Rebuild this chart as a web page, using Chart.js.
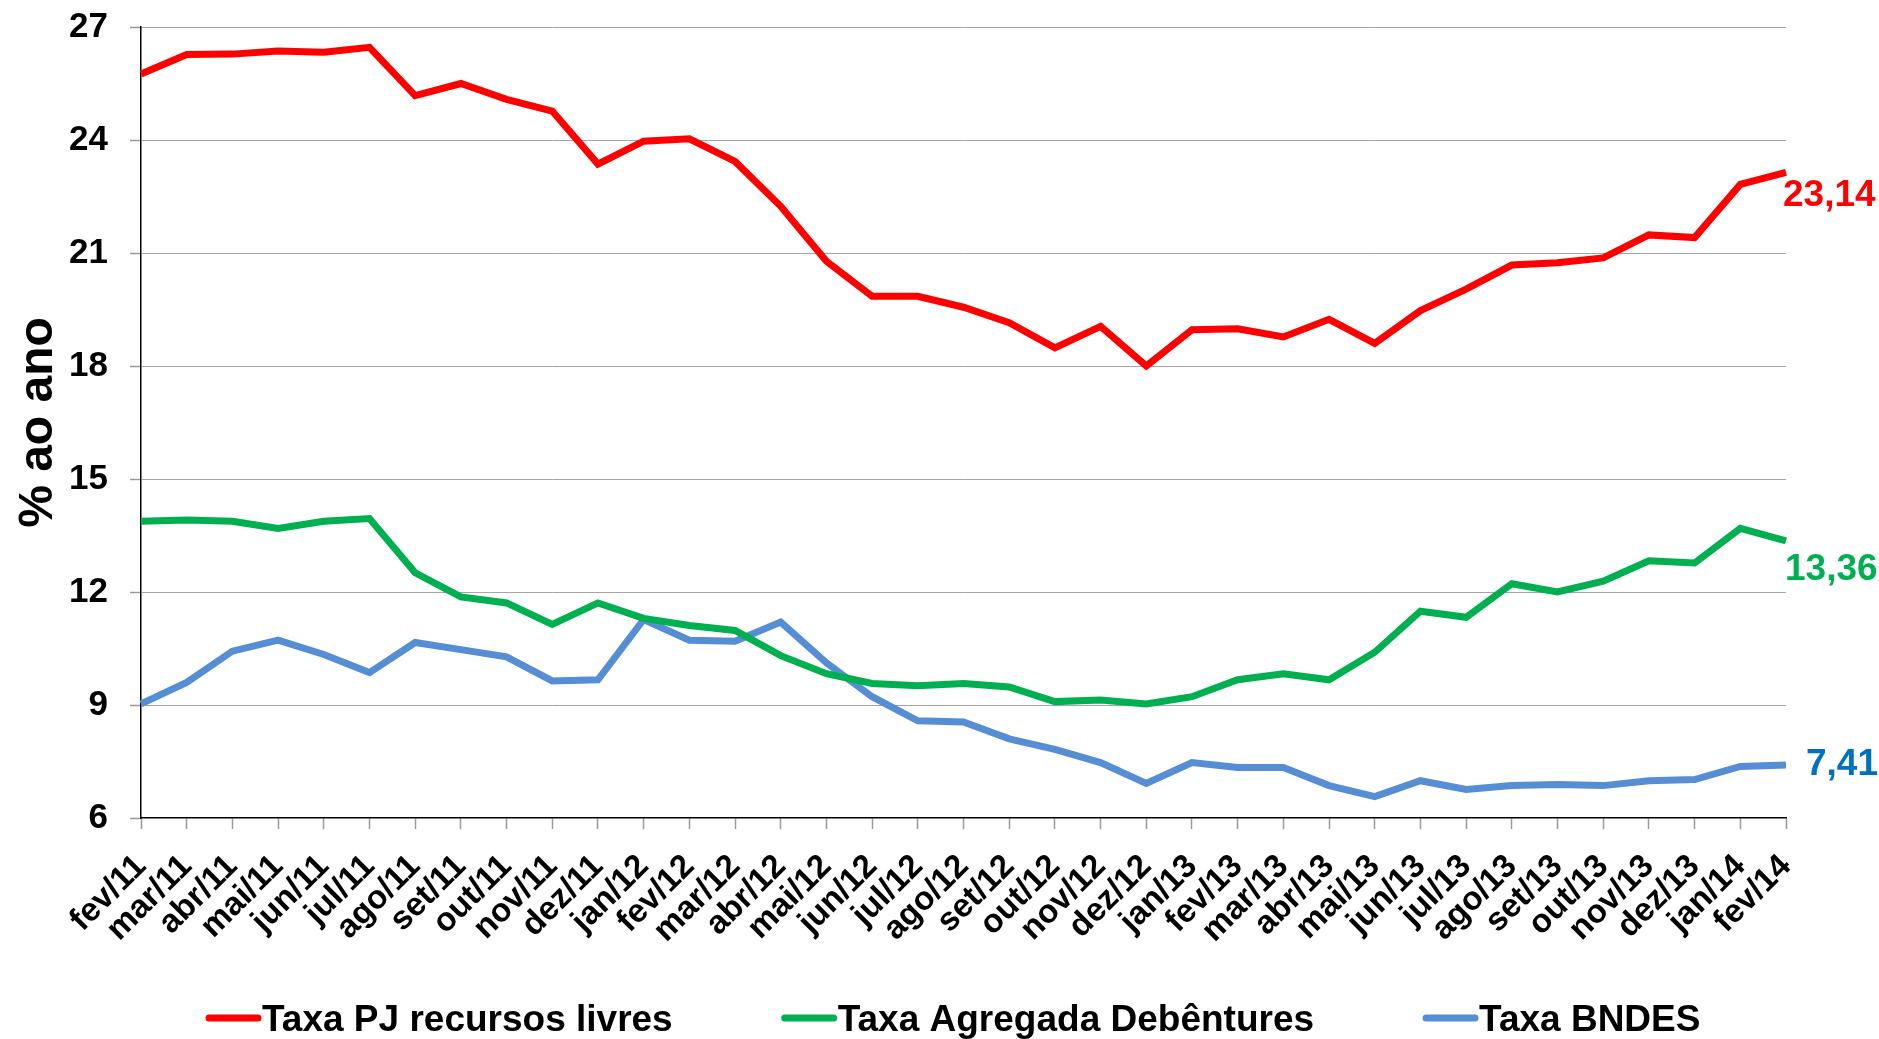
<!DOCTYPE html>
<html>
<head>
<meta charset="utf-8">
<script src="https://cdn.jsdelivr.net/npm/chart.js@4.4.1/dist/chart.umd.min.js"></script>
<style>
    html, body { margin: 0; padding: 0; background: #fff; }
    #wrap { width: 1879px; height: 1039px; }
</style>
</head>
<body>
<div id="wrap"><canvas id="taxasChart" width="1879" height="1039"></canvas></div>
<script>
// Months (fev/11 .. fev/14)
const months = [
    'fev/11', 'mar/11', 'abr/11', 'mai/11', 'jun/11', 'jul/11', 'ago/11', 'set/11', 'out/11', 'nov/11', 'dez/11',
    'jan/12', 'fev/12', 'mar/12', 'abr/12', 'mai/12', 'jun/12', 'jul/12', 'ago/12', 'set/12', 'out/12', 'nov/12', 'dez/12',
    'jan/13', 'fev/13', 'mar/13', 'abr/13', 'mai/13', 'jun/13', 'jul/13', 'ago/13', 'set/13', 'out/13', 'nov/13', 'dez/13',
    'jan/14', 'fev/14'
];

// Series (% ao ano)
const taxaPJ = [
    25.75, 26.27, 26.28, 26.36, 26.33, 26.46, 25.18, 25.50, 25.08, 24.77, 23.36,
    23.97, 24.03, 23.43, 22.24, 20.78, 19.85, 19.85, 19.56, 19.15, 18.48, 19.05, 18.00,
    18.96, 18.99, 18.77, 19.24, 18.60, 19.47, 20.04, 20.68, 20.74, 20.87, 21.48, 21.41,
    22.82, 23.14
];

const taxaDebentures = [
    13.88, 13.91, 13.88, 13.69, 13.88, 13.95, 12.51, 11.87, 11.71, 11.14, 11.71,
    11.30, 11.11, 10.98, 10.31, 9.83, 9.57, 9.51, 9.57, 9.48, 9.09, 9.13, 9.03,
    9.22, 9.67, 9.83, 9.67, 10.40, 11.49, 11.33, 12.22, 12.00, 12.29, 12.83, 12.77,
    13.69, 13.36
];

const taxaBNDES = [
    9.03, 9.60, 10.43, 10.72, 10.34, 9.86, 10.66, 10.47, 10.28, 9.64, 9.67,
    11.27, 10.72, 10.69, 11.20, 10.12, 9.22, 8.58, 8.55, 8.10, 7.82, 7.47, 6.92,
    7.47, 7.34, 7.34, 6.86, 6.57, 6.99, 6.76, 6.86, 6.89, 6.86, 6.99, 7.02,
    7.37, 7.41
];

const yTicks = [6, 9, 12, 15, 18, 21, 24, 27];

const seriesNames = ['Taxa PJ recursos livres', 'Taxa Agregada Debêntures', 'Taxa BNDES'];

const FONT = '"Liberation Sans", Arial, sans-serif';


// Value label at the end of each line
const endLabels = {
    id: 'endLabels',
    afterDatasetsDraw(chart) {
        const ctx = chart.ctx;
        chart.data.datasets.forEach((ds, i) => {
            const meta = chart.getDatasetMeta(i);
            const pt = meta.data[meta.data.length - 1];
            const value = ds.data[ds.data.length - 1];
            ctx.save();
            ctx.font = 'bold 37px ' + FONT;
            ctx.fillStyle = ds.labelColor;
            ctx.textAlign = 'left';
            ctx.textBaseline = 'middle';
            ctx.fillText(value.toFixed(2).replace('.', ','), pt.x + ds.labelDx, pt.y + ds.labelDy);
            ctx.restore();
        });
    }
};


// Legend at the bottom (line sample + text)
const bottomLegend = {
    id: 'bottomLegend',
    afterDraw(chart) {
        const ctx = chart.ctx;
        let x = 205;
        const y = 1018;
        ctx.save();
        ctx.font = 'bold 37px ' + FONT;
        chart.data.datasets.forEach(ds => {
            ctx.strokeStyle = ds.borderColor;
            ctx.lineWidth = 7;
            ctx.lineCap = 'round';
            ctx.beginPath();
            ctx.moveTo(x + 4, y);
            ctx.lineTo(x + 53, y);
            ctx.stroke();

            ctx.fillStyle = '#000';
            ctx.textAlign = 'left';
            ctx.textBaseline = 'alphabetic';
            ctx.fillText(ds.label, x + 57, 1031);
            x += 57 + ctx.measureText(ds.label).width + 108;
        });
        ctx.restore();
    }
};


// Create chart
function createChart() {

    const ctx = document.getElementById('taxasChart').getContext('2d');

    new Chart(ctx, {
        type: 'line',

        data: {
            labels: months,

            datasets: [
                {
                    label: seriesNames[0],
                    data: taxaPJ,
                    borderColor: '#FF0000',
                    labelColor: '#FF0000',
                    labelDx: -3,
                    labelDy: 23,
                    borderWidth: 7
                },
                {
                    label: seriesNames[1],
                    data: taxaDebentures,
                    borderColor: '#00B050',
                    labelColor: '#00B050',
                    labelDx: -1,
                    labelDy: 29,
                    borderWidth: 7
                },
                {
                    label: seriesNames[2],
                    data: taxaBNDES,
                    borderColor: '#558ED5',
                    labelColor: '#0070C0',
                    labelDx: 20,
                    labelDy: 0,
                    borderWidth: 7
                }
            ]
        },

        options: {
            responsive: false,
            animation: false,

            layout: {
                autoPadding: false,
                padding: { top: 27, right: 93, bottom: 80, left: 0 }
            },

            elements: {
                point: { radius: 0 },
                line: { tension: 0, borderJoinStyle: 'miter' }
            },

            plugins: {
                legend: { display: false },
                tooltip: { enabled: false }
            },

            scales: {
                x: {
                    offset: false,
                    grid: {
                        drawOnChartArea: false,
                        drawTicks: true,
                        tickLength: 11,
                        tickColor: '#999999',
                        tickWidth: 1.5
                    },
                    border: { color: '#000', width: 1.5 },
                    ticks: {
                        autoSkip: false,
                        maxRotation: 45,
                        minRotation: 45,
                        padding: 18,
                        color: '#000',
                        font: { family: FONT, size: 33, weight: 'bold' }
                    },
                    afterFit(scale) {
                        scale.height = 141;
                        scale.paddingLeft = 0;
                        scale.paddingRight = 0;
                    }
                },

                y: {
                    min: 6,
                    max: 27,
                    afterBuildTicks(scale) {
                        scale.ticks = yTicks.map(v => ({ value: v }));
                    },
                    grid: {
                        color: ctx => ctx.tick && ctx.tick.value === 6 ? 'rgba(0,0,0,0)' : '#a6a6a6',
                        lineWidth: 1,
                        borderDash: [1, 2],
                        tickBorderDash: [],
                        tickColor: '#999999',
                        tickWidth: 1.5,
                        tickLength: 11
                    },
                    border: { color: '#000', width: 1.5 },
                    ticks: {
                        padding: 22,
                        color: '#000',
                        font: { family: FONT, size: 35, weight: 'bold' }
                    },
                    title: {
                        display: true,
                        text: '% ao ano',
                        color: '#000',
                        padding: { top: 10, bottom: 0 },
                        font: { family: FONT, size: 48, weight: 'bold' }
                    },
                    afterFit(scale) {
                        scale.width = 141;
                        scale.paddingTop = 0;
                        scale.paddingBottom = 0;
                    }
                }
            }
        },

        plugins: [endLabels, bottomLegend]
    });
}

createChart();
</script>
</body>
</html>
